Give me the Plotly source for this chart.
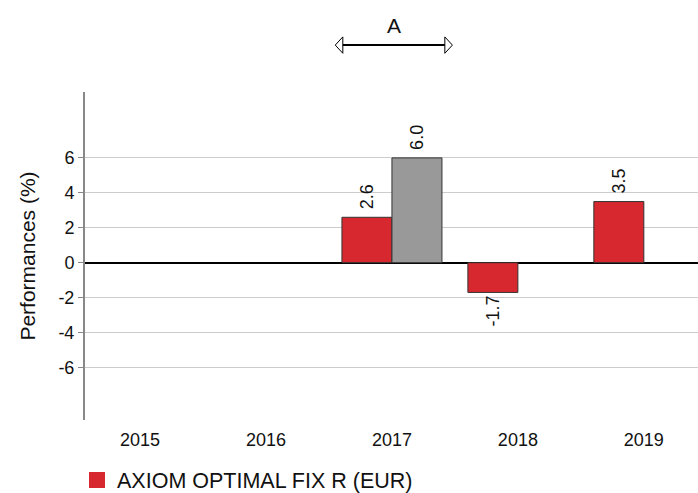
import plotly.graph_objects as go

years = ["2015", "2016", "2017", "2018", "2019"]
fund_values = [None, None, 2.6, -1.7, 3.5]
bench_values = [None, None, 6.0, None, None]
fund_name = "AXIOM OPTIMAL FIX R (EUR)"
y_ticks = [-6, -4, -2, 0, 2, 4, 6]
period_label = "A"

RED = "#d7282f"
GREY = "#999999"
FONT = "Liberation Sans, Arial, sans-serif"

def fmt(v):
    return "" if v is None else "\u00a0" + f"{v:.1f}"

fig = go.Figure()
fig.add_trace(go.Bar(
    x=years, y=fund_values, name=fund_name,
    marker=dict(color=RED, line=dict(color="#333333", width=1)),
    text=[fmt(v) for v in fund_values], textposition="outside",
    textangle=-90, textfont=dict(size=18, color="#111111", family=FONT),
    cliponaxis=False, showlegend=False,
))
fig.add_trace(go.Bar(
    x=years, y=bench_values, name="Benchmark",
    marker=dict(color=GREY, line=dict(color="#333333", width=1)),
    text=[fmt(v) for v in bench_values], textposition="outside",
    textangle=-90, textfont=dict(size=18, color="#111111", family=FONT),
    cliponaxis=False, showlegend=False,
))
# legend entry
fig.add_trace(go.Scatter(
    x=[None], y=[None], mode="markers", name=fund_name,
    marker=dict(symbol="square", size=20, color=RED),
    showlegend=True,
))

W, H = 698, 493
fig.update_layout(
    width=W, height=H,
    margin=dict(l=85, r=0, t=92, b=73, autoexpand=False),
    paper_bgcolor="white", plot_bgcolor="white",
    font=dict(family=FONT, size=18, color="#111111"),
    barmode="group", bargap=0.206, bargroupgap=0,
    xaxis=dict(
        type="category", range=[-0.437, 4.43],
        showline=False, showgrid=False, ticks="",
        tickfont=dict(size=18), automargin=False, ticklabelstandoff=7,
    ),
    yaxis=dict(
        range=[-9.0, 9.77], tickvals=y_ticks,
        ticktext=[str(v) for v in y_ticks],
        showgrid=True, gridcolor="#cccccc", gridwidth=1,
        zeroline=True, zerolinecolor="#000000", zerolinewidth=1.5,
        showline=True, linecolor="#888888", linewidth=2,
        ticks="outside", ticklen=5, tickcolor="#888888",
        tickfont=dict(size=18), automargin=False,
        title=dict(text="Performances (%)", font=dict(size=21), standoff=17),
    ),
    legend=dict(
        orientation="h", xref="container", yref="container",
        x=77 / W, y=1 - 480 / H, xanchor="left", yanchor="middle",
        font=dict(size=21.5), bgcolor="rgba(0,0,0,0)",
        itemwidth=30,
    ),
)

# period arrow above chart
y_arrow = 1.143
x_left, x_right = 1.55, 2.48
fig.add_shape(type="line", xref="x", yref="paper",
              x0=x_left + 0.05, x1=x_right - 0.05, y0=y_arrow, y1=y_arrow,
              line=dict(color="black", width=2))
dx = 0.06
dy = 0.025
fig.add_shape(type="path", xref="x", yref="paper",
              path=f"M {x_left} {y_arrow} L {x_left+dx} {y_arrow+dy} L {x_left+dx} {y_arrow-dy} Z",
              fillcolor="white", line=dict(color="black", width=1))
fig.add_shape(type="path", xref="x", yref="paper",
              path=f"M {x_right} {y_arrow} L {x_right-dx} {y_arrow+dy} L {x_right-dx} {y_arrow-dy} Z",
              fillcolor="white", line=dict(color="black", width=1))
fig.add_annotation(x=(x_left + x_right) / 2, y=1.204, xref="x", yref="paper",
                   yanchor="middle", xanchor="center",
                   text=period_label, showarrow=False, font=dict(size=21))

fig.write_html(
    "out.html",
    config={"displayModeBar": False},
    post_script="document.body.style.margin='0';document.body.style.overflow='hidden';",
)
